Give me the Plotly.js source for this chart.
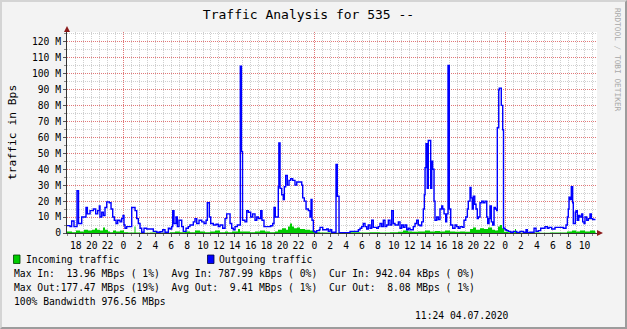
<!DOCTYPE html>
<html>
<head>
<meta charset="utf-8">
<script src="https://cdn.plot.ly/plotly-3.0.1.min.js"></script>
<style>
  html, body { margin:0; padding:0; background:#f3f3f3; }
  #wrap { position:relative; width:627px; height:329px; }
  #chart { position:absolute; left:0; top:0; width:627px; height:329px; }
  #frame { position:absolute; left:0; top:0; width:627px; height:329px; box-sizing:border-box;
           border-top:2px solid #d4d4d4; border-left:2px solid #d4d4d4;
           border-right:2px solid #9c9c9c; border-bottom:2px solid #9c9c9c; pointer-events:none; }
</style>
</head>
<body>
<div id="wrap"><div id="chart"></div><div id="frame"></div></div>
<script>
// Hours relative to 02.07.2020 00:00
const outHours = [
  -7.11,-6.73,-6.52,-6.23,-5.85,-5.66,-5.26,-5.06,-4.72,-4.55,
  -4.21,-3.80,-3.50,-3.25,-3.04,-2.96,-2.74,-2.54,-2.33,-2.11,
  -1.79,-1.57,-1.36,-1.16,-0.94,-0.73,-0.44,-0.23,-0.06,0.06,
  0.19,0.40,0.82,1.03,1.45,1.66,1.86,2.08,2.29,2.58,
  2.92,3.55,3.75,4.18,4.59,4.93,5.22,5.64,5.85,6.06,
  6.19,6.35,6.60,6.77,6.98,7.32,7.52,7.86,8.15,8.36,
  8.78,8.99,9.21,9.50,9.84,10.13,10.38,10.54,10.79,10.97,
  11.30,11.64,11.92,12.14,12.48,12.77,12.98,13.18,13.40,13.61,
  13.81,14.03,14.31,14.57,14.69,14.84,14.97,15.28,15.50,15.70,
  16.00,16.25,16.54,16.76,16.96,17.26,17.42,17.67,18.01,18.52,
  18.77,18.93,19.09,19.35,19.47,19.54,19.69,19.90,20.10,20.23,
  20.40,20.60,20.82,21.03,21.28,21.57,21.79,22.20,22.42,22.54,
  22.74,22.96,23.25,23.46,23.59,23.71,23.88,24.09,24.30,24.63,
  24.72,25.06,25.56,25.76,25.98,26.19,26.39,26.73,26.89,27.11,
  28.49,29.54,29.75,29.96,30.16,30.38,30.59,30.79,31.01,31.22,
  31.42,31.85,32.05,32.26,32.48,32.68,32.89,33.11,33.31,33.52,
  33.74,33.94,34.15,34.57,34.78,34.99,35.20,35.41,35.62,35.82,
  36.04,36.45,36.67,36.88,37.08,37.30,37.51,37.71,37.84,37.93,
  38.05,38.21,38.34,38.64,38.77,38.89,39.06,39.18,39.40,39.60,
  39.81,40.03,40.15,40.32,40.53,40.65,40.82,40.98,41.16,41.41,
  41.70,41.91,42.11,42.33,42.62,42.83,43.05,43.25,43.37,43.59,
  43.71,43.87,44.00,44.18,44.34,44.50,44.63,44.84,45.06,45.26,
  45.47,45.69,45.81,45.98,46.10,46.27,46.44,46.61,46.77,46.94,
  47.02,47.20,47.27,47.52,47.70,47.80,47.99,48.20,48.41,48.71,
  49.03,49.46,49.87,50.29,50.63,50.79,51.13,51.64,51.89,52.18,
  52.48,52.81,53.02,53.31,53.52,53.86,54.28,54.91,55.32,55.66,
  55.83,55.95,56.04,56.16,56.33,56.50,56.58,56.83,56.92,57.08,
  57.26,57.42,57.64,57.76,57.93,58.05,58.27,58.47,58.68,58.85,
  59.02,59.37
];
// Outgoing traffic, MBps
const outMBps = [
  4.6,4,7.5,4,26.5,6,10,10,16,12,
  14,15,12,14,17,10,13,11,16,19.5,
  19,15,10,8,6,8,7,9,11,5,
  3,4,4,16,14,9,6,3,0.5,3,
  2.5,2.5,1,0.5,0.8,2,0.5,3,2.5,4,
  14,6,10,4,8,4,1,3,4,5,
  7,9,6,8,7,6,8,19,10,6,
  5,5.5,4,5,3,9,12,12,6,3,
  2,4,5,5,104.5,51,8,7,14,13,
  10,12,8,10,9,14,8,4,4,4.5,
  6,16,10,10,29,56.5,28,24,21,29,
  36,30,33,34,33,30,32,32,30,22,
  20,15,14,10,21,8,1,0.5,1.5,2,
  3.5,2,2.5,1,2,0.3,0.5,43,23,0.2,
  1,2,3,4,6,4,2.5,5,3,8,
  3.5,3,4,6,4,8,4,5,8,5,
  14,6,5,7,3,5,3.5,5,2,3,
  2,4,6,8,5,4.5,7,15,24,41,
  56,28,58,28,45,40,20,8,10,8.5,
  15,17,15,12,7,12,105,15,5,3,
  5,4,3,4,3.5,8,10,15,20,28.5,
  22,15,23,18,15,9,10,19,20,19,
  20,10,6,9,17,7,5,16,15,14,
  66,89.7,90.8,80,64.7,3,2,1.5,1,0.5,
  1,0.3,1,0.5,2,0.3,0.5,3,1,1.5,
  3,3,4,3,3.5,2.5,3.5,3.5,3,5,
  10,15,22.5,21,29,19,6,13,14,8,
  11,10,12,7,6,10,8,9,12,9,
  8.5,8.5
];
const inHours = [
  -7.11,-6.48,-5.98,-5.47,-4.97,-4.47,-3.96,-3.59,-3.33,-2.96,
  -2.58,-2.33,-1.95,-1.70,-1.32,-0.94,-0.44,0.06,0.57,1.38,
  1.51,2.08,3.33,4.59,5.85,6.48,7.11,7.74,8.36,8.99,
  9.62,10.25,10.88,11.51,12.14,12.77,13.15,13.65,14.40,14.65,
  15.28,15.91,16.54,17.17,17.80,18.43,19.06,19.43,19.94,20.44,
  20.69,20.94,21.20,21.45,21.82,22.20,22.83,23.46,23.96,24.72,
  25.98,27.23,28.49,29.75,31.01,32.26,33.52,34.53,35.16,35.79,
  36.29,37.04,37.93,38.55,39.18,39.81,40.44,41.07,41.70,42.33,
  42.96,43.59,43.96,44.34,44.84,45.35,45.85,46.36,46.73,47.11,
  47.36,47.61,47.86,48.36,48.87,49.25,49.37,49.87,51.13,52.39,
  53.65,54.91,55.79,56.42,56.92,57.42,58.05,58.68,59.31,59.37
];
// Incoming traffic, MBps
const inMBps = [
  1,0.5,1.5,1,2,1.5,2,3,2,1.5,
  3.5,2,1,0.5,1.5,1,1.5,0.5,0.3,4,
  0.3,0.2,0.3,0.2,0.5,1,0.5,1,0.5,1.5,
  1,0.5,1,1.5,0.5,1,0.5,1,2.5,1,
  1,0.5,1,1.5,1,0.5,1,2,3,2,
  4,6,4,3,3.5,2.5,2,1.5,0.5,0.3,
  0.2,0.3,0.4,0.3,0.5,0.3,0.5,0.8,1.5,1,
  0.8,1,1.5,1,1.2,1,1.5,1,0.8,1,
  0.8,2.5,3.5,2,3,2.5,3.5,2,1.5,4,
  5,3,0.8,0.5,0.5,2.5,0.3,0.2,0.3,0.2,
  0.3,0.3,1,1.5,1,1.5,1,1.5,1,1
];
const yTickVals = [0,10,20,30,40,50,60,70,80,90,100,110,120];
const yTickText = ['0','10 M','20 M','30 M','40 M','50 M','60 M','70 M','80 M','90 M','100 M','110 M','120 M'];
const xTickVals = [];
for (let h = -6; h <= 58; h += 2) xTickVals.push(h);
const xTickText = xTickVals.map(h => String(((h % 24) + 24) % 24));

const legendLines = [
  'Max In:  13.96 MBps ( 1%)  Avg In: 787.99 kBps ( 0%)  Cur In: 942.04 kBps ( 0%)',
  'Max Out:177.47 MBps (19%)  Avg Out:  9.41 MBps ( 1%)  Cur Out:  8.08 MBps ( 1%)',
  '100% Bandwidth 976.56 MBps'
];
const stamp = '11:24 04.07.2020';

// layout geometry (pixels)
const L = 67, R = 597, T = 32, B = 233;
const W = 627, H = 329;
const X_RANGE = [-7.11, 59.56];
const px = x => (x - L) / (R - L);
const py = y => (B - y) / (B - T);
const nb = s => s.replace(/ /g, '\u00a0');
const MONO = 'DejaVu Sans Mono';
const FS = 9.7;
const RED = 'rgba(228,105,105,0.85)';

const traces = [
  { x: inHours, y: inMBps, type: 'scatter', mode: 'lines', line: { shape: 'hv', width: 0, color: '#00cc00' },
    fill: 'tozeroy', fillcolor: '#00cc00', hoverinfo: 'skip', name: 'Incoming traffic' },
  { x: outHours, y: outMBps, type: 'scatter', mode: 'lines', line: { shape: 'hv', width: 1.4, color: '#0000ff' },
    hoverinfo: 'skip', name: 'Outgoing traffic' },
  // carrier for the midnight (major) grid axis, draws nothing visible
  { x: [inHours[0]], y: [inMBps[0]], xaxis: 'x2', type: 'scatter', mode: 'markers',
    marker: { opacity: 0, size: 1 }, hoverinfo: 'skip', showlegend: false }
];

const annotations = [];
function ann(text, x, y, extra) {
  annotations.push(Object.assign({ text: nb(text), x: px(x), y: py(y), xref: 'paper', yref: 'paper',
    xanchor: 'left', yanchor: 'middle', showarrow: false, borderpad: 0,
    font: { family: MONO, size: FS, color: '#000' } }, extra || {}));
}
ann('Incoming traffic', 25, 259);
ann('Outgoing traffic', 218, 259);
ann(legendLines[0], 12.5, 273);
ann(legendLines[1], 12.5, 287.5);
ann(legendLines[2], 12.5, 301);
ann(stamp, 509, 315.5, { xanchor: 'right' });
ann('traffic in Bps', 12, 133, { xanchor: 'center', textangle: -90, font: { family: MONO, size: 11.3, color: '#000' } });
ann('RRDTOOL / TOBI OETIKER', 618, 60, { xanchor: 'center', textangle: 90, font: { family: MONO, size: 7.8, color: '#a8a8a8' } });

const shapes = [];
// legend boxes
shapes.push({ type: 'rect', xref: 'paper', yref: 'paper', x0: px(13.5), x1: px(20), y0: py(263.5), y1: py(255),
  fillcolor: '#00cc00', line: { color: '#004000', width: 0.8 } });
shapes.push({ type: 'rect', xref: 'paper', yref: 'paper', x0: px(207.5), x1: px(214), y0: py(263.5), y1: py(255),
  fillcolor: '#0000ff', line: { color: '#000040', width: 0.8 } });
// axis arrows
shapes.push({ type: 'path', xref: 'paper', yref: 'paper', xsizemode: 'pixel', ysizemode: 'pixel',
  xanchor: 1, yanchor: 0, path: 'M0,3 L6,0 L0,-3 Z', fillcolor: '#8b1a1a', line: { width: 0 } });
shapes.push({ type: 'path', xref: 'paper', yref: 'paper', xsizemode: 'pixel', ysizemode: 'pixel',
  xanchor: 0, yanchor: 1, path: 'M-3,0 L3,0 L0,6 Z', fillcolor: '#8b1a1a', line: { width: 0 } });

const layout = {
  width: W, height: H,
  margin: { l: L, r: W - R, t: T, b: H - B, pad: 0 },
  paper_bgcolor: '#f3f3f3', plot_bgcolor: '#ffffff',
  showlegend: false,
  title: { text: 'Traffic Analysis for 535 --', font: { family: MONO, size: 13, color: '#000' },
    x: 308.5 / W, xref: 'container', xanchor: 'center', y: 1 - 14 / H, yref: 'container', yanchor: 'middle' },
  xaxis: {
    range: X_RANGE, tickmode: 'array', tickvals: xTickVals, ticktext: xTickText,
    showgrid: false, zeroline: false, showline: true, linecolor: '#333', linewidth: 1,
    ticks: 'outside', ticklen: 3, tickcolor: '#555',
    tickfont: { family: MONO, size: FS, color: '#000' },
    minor: { tick0: 0, dtick: 1, showgrid: true, gridcolor: '#cfcfcf', griddash: '1px,1px', gridwidth: 1,
             ticks: 'outside', ticklen: 2, tickcolor: '#888' },
    fixedrange: true
  },
  xaxis2: {
    overlaying: 'x', side: 'bottom', range: X_RANGE, tickmode: 'linear', tick0: 0, dtick: 24,
    showgrid: true, gridcolor: RED, griddash: '1px,1px', gridwidth: 1,
    showticklabels: false, ticks: '', showline: false, zeroline: false, fixedrange: true
  },
  yaxis: {
    range: [0, 126], tickmode: 'array', tickvals: yTickVals, ticktext: yTickText,
    showgrid: true, gridcolor: RED, griddash: '1px,1px', gridwidth: 1,
    zeroline: false, showline: true, linecolor: '#333', linewidth: 1,
    ticks: 'outside', ticklen: 3, tickcolor: '#555',
    tickfont: { family: MONO, size: FS, color: '#000' },
    minor: { tick0: 0, dtick: 5, showgrid: true, gridcolor: '#cfcfcf', griddash: '1px,1px', gridwidth: 1,
             ticks: 'outside', ticklen: 2, tickcolor: '#888' },
    fixedrange: true
  },
  annotations: annotations,
  shapes: shapes
};

Plotly.newPlot('chart', traces, layout, { staticPlot: true, displayModeBar: false });
</script>
</body>
</html>
